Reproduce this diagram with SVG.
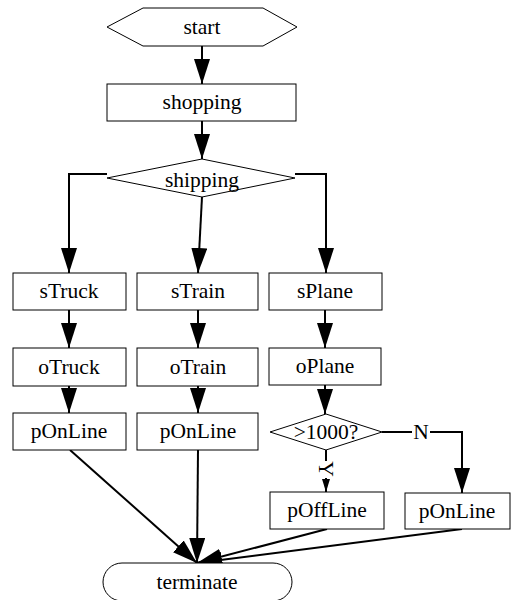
<svg xmlns="http://www.w3.org/2000/svg" width="511" height="600" viewBox="0 0 511 600">
<defs>
<style>
.n{fill:#fff;stroke:#000;stroke-width:1}
.t{font-family:"Liberation Serif","Times New Roman",serif;font-size:21.5px;fill:#000;text-anchor:middle;dominant-baseline:central}
.e{fill:none;stroke:#000;stroke-width:2}
.h{marker-end:url(#ah)}
.hs{marker-end:url(#as)}
</style>
<marker id="ah" markerUnits="userSpaceOnUse" viewBox="0 0 25 16" markerWidth="25" markerHeight="16" refX="25" refY="8" orient="auto">
<path d="M0,0 L25,8 L0,16 z" fill="#000"/>
</marker>
<marker id="as" markerUnits="userSpaceOnUse" viewBox="0 0 13 8" markerWidth="13" markerHeight="8" refX="13" refY="4" orient="auto">
<path d="M0,0 L13,4 L0,8 z" fill="#000"/>
</marker>
</defs>
<rect width="511" height="600" fill="#fff"/>
<g id="connectors">
<path class="e h" d="M202,46 V84"/>
<path class="e h" d="M202,121 V159"/>
<path class="e h" d="M107,174 H69 V273"/>
<path class="e h" d="M202,197 L198,273"/>
<path class="e h" d="M295,174 H326 V273"/>
<path class="e h" d="M69,310 V348"/>
<path class="e h" d="M198,310 V348"/>
<path class="e h" d="M325,310 V348"/>
<path class="e h" d="M69,386 V413"/>
<path class="e h" d="M198,386 V413"/>
<path class="e h" d="M325,385 V414"/>
<path class="e" d="M326,450 V461"/>
<path class="e hs" d="M326,478 V492"/>
<text class="t" transform="translate(326,469) rotate(90)">Y</text>
<path class="e" d="M382,432 H412"/>
<text class="t" x="421" y="432">N</text>
<path class="e h" d="M430,432 H462 V493"/>
<path class="e h" d="M70,450 L197,563"/>
<path class="e h" d="M198,450 L197,563"/>
<path class="e h" d="M327,529 L197,563"/>
<path class="e h" d="M462,529 L197,563"/>
</g>
<g id="start"><polygon class="n" points="107,27 143,8 263,8 297,27 263,46 143,46"/><text class="t" x="202" y="27">start</text></g>
<g id="shopping"><rect class="n" x="107" y="84" width="189" height="37"/><text class="t" x="202" y="102">shopping</text></g>
<g id="shipping"><polygon class="n" points="107,178 202,159 295,178 202,197"/><text class="t" x="202" y="180">shipping</text></g>
<g id="sTruck"><rect class="n" x="13" y="273" width="113" height="37"/><text class="t" x="69" y="291">sTruck</text></g>
<g id="sTrain"><rect class="n" x="137" y="273" width="121" height="37"/><text class="t" x="198" y="291">sTrain</text></g>
<g id="sPlane"><rect class="n" x="269" y="273" width="113" height="37"/><text class="t" x="325" y="291">sPlane</text></g>
<g id="oTruck"><rect class="n" x="13" y="348" width="113" height="38"/><text class="t" x="69" y="367">oTruck</text></g>
<g id="oTrain"><rect class="n" x="137" y="348" width="121" height="38"/><text class="t" x="198" y="367">oTrain</text></g>
<g id="oPlane"><rect class="n" x="269" y="348" width="112" height="37"/><text class="t" x="325" y="366">oPlane</text></g>
<g id="pOnLine1"><rect class="n" x="13" y="413" width="113" height="37"/><text class="t" x="69" y="431">pOnLine</text></g>
<g id="pOnLine2"><rect class="n" x="137" y="413" width="121" height="37"/><text class="t" x="198" y="431">pOnLine</text></g>
<g id="gt1000"><polygon class="n" points="270,432 326,414 382,432 326,450"/><text class="t" x="326" y="432">&gt;1000?</text></g>
<g id="pOffLine"><rect class="n" x="270" y="492" width="114" height="37"/><text class="t" x="327" y="510">pOffLine</text></g>
<g id="pOnLine3"><rect class="n" x="405" y="493" width="105" height="36"/><text class="t" x="457" y="511">pOnLine</text></g>
<g id="terminate"><rect class="n" x="103" y="563" width="189" height="38" rx="19" ry="19"/><text class="t" x="197" y="582">terminate</text></g>
</svg>
